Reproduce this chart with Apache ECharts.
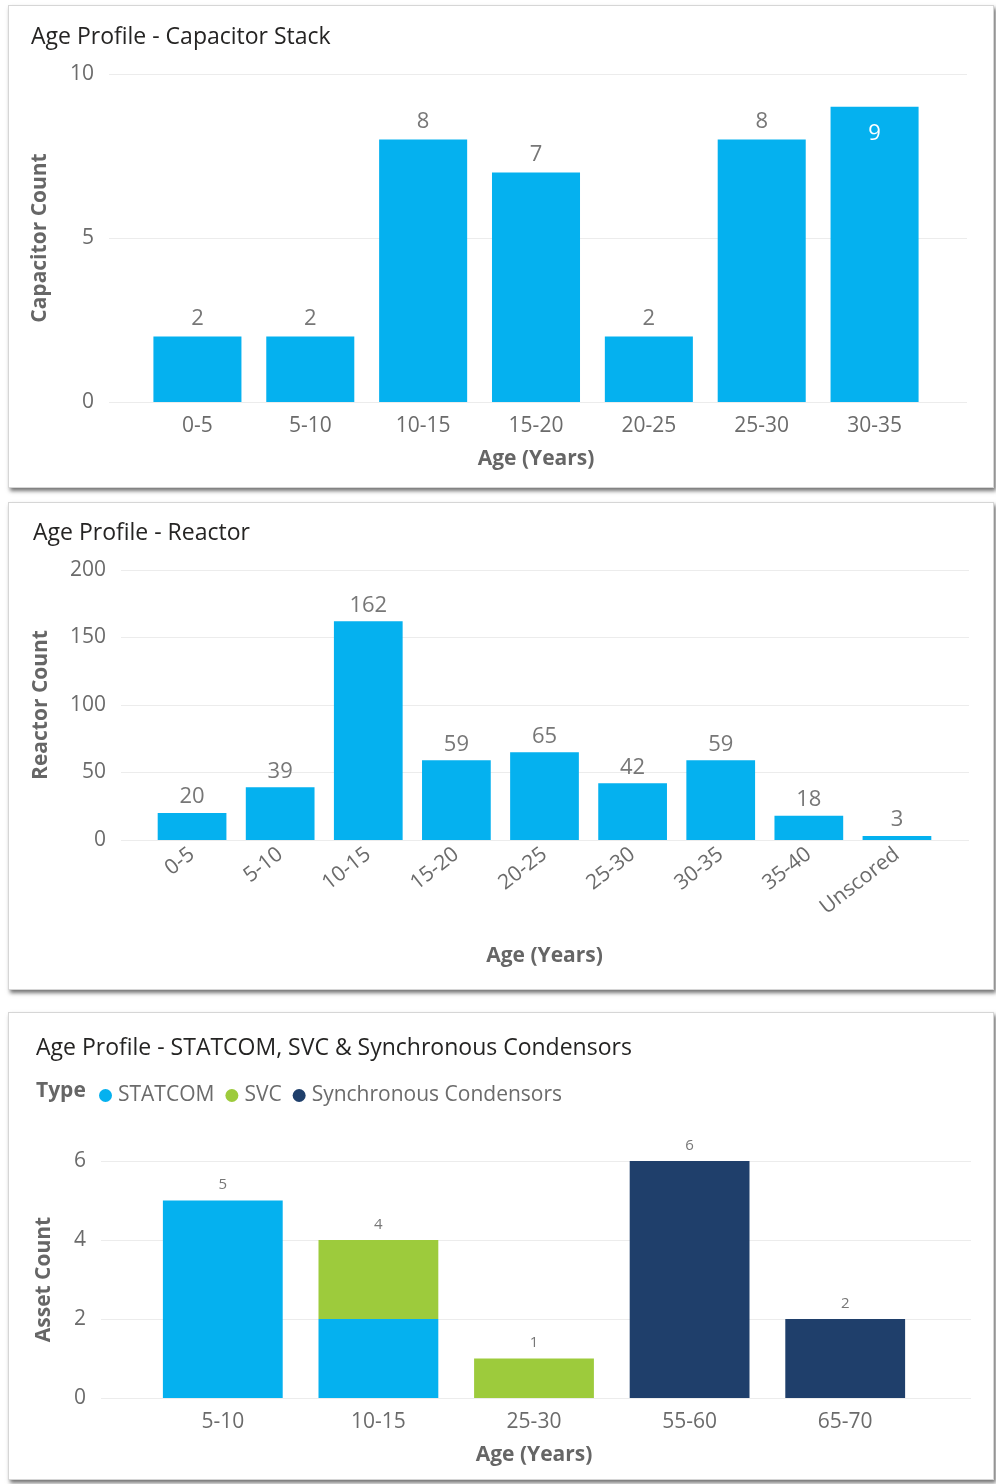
<!DOCTYPE html>
<html>
<head>
<meta charset="utf-8">
<script src="https://cdn.jsdelivr.net/npm/echarts@6/dist/echarts.min.js"></script>
<style>
  body { margin: 0; background: #fff; width: 996px; height: 1484px; position: relative; overflow: hidden; }
  .card { position: absolute; left: 8px; width: 986px; background: #fff;
          border: 1px solid #d6d6d6; box-shadow: 2px 3px 4px rgba(0,0,0,0.55); box-sizing: border-box; }
</style>
</head>
<body>
<div id="capChart" class="card" style="top:5px; height:483px;"></div>
<div id="reactorChart" class="card" style="top:502px; height:488px;"></div>
<div id="assetChart" class="card" style="top:1012px; height:468px;"></div>

<script>
// capacitor stack
var capAges = ['0-5', '5-10', '10-15', '15-20', '20-25', '25-30', '30-35'];
var capCounts = [2, 2, 8, 7, 2, 8, 9];
var capTicks = [0, 5, 10];

// reactor
var reactorAges = ['0-5', '5-10', '10-15', '15-20', '20-25', '25-30', '30-35', '35-40', 'Unscored'];
var reactorCounts = [20, 39, 162, 59, 65, 42, 59, 18, 3];

// statcom / svc / sync condensors
var assetAges = ['5-10', '10-15', '25-30', '55-60', '65-70'];
var statcomCounts = [5, 2, 0, 0, 0];
var svcCounts = [0, 2, 1, 0, 0];
var syncCounts = [0, 0, 0, 6, 2];

var FONT = '"Open Sans", "Noto Sans", sans-serif';
var BLUE = '#05B1EF';
var GREEN = '#9DCB3C';
var NAVY = '#1F3F6B';
var TICK = '#6b6b6b';
var GRID = '#ececec';

function titleOpt(text, left, top) {
  return { text: text, left: left, top: top, padding: 0,
           textStyle: { fontFamily: FONT, fontSize: 23, fontWeight: 'normal', color: '#252423' } };
}

// background grid holds the y labels + full width gridlines, inner grid holds the bars
function yAxisPair(max, interval, name, nameGap) {
  return [{
    gridIndex: 0, type: 'value', min: 0, max: max, interval: interval,
    name: name, nameLocation: 'middle', nameGap: nameGap, nameRotate: 90,
    nameTextStyle: { fontFamily: FONT, fontSize: 21, fontWeight: 'bold', color: '#666' },
    axisLine: { show: false }, axisTick: { show: false },
    axisLabel: { fontFamily: FONT, fontSize: 21, color: TICK, margin: 15 },
    splitLine: { lineStyle: { color: GRID, width: 1 } }
  }, {
    gridIndex: 1, type: 'value', min: 0, max: max, interval: interval, show: false
  }];
}

function xAxisPair(cats, name, nameGap, rotate, margin) {
  return [{ gridIndex: 0, type: 'category', data: cats, show: false }, {
    gridIndex: 1, type: 'category', data: cats,
    name: name, nameLocation: 'middle', nameGap: nameGap,
    nameTextStyle: { fontFamily: FONT, fontSize: 21, fontWeight: 'bold', color: '#666' },
    axisLine: { show: false }, axisTick: { show: false },
    axisLabel: { fontFamily: FONT, fontSize: 21, color: TICK, margin: margin, rotate: rotate || 0, interval: 0 }
  }];
}

// ---- chart 1
var capChart = echarts.init(document.getElementById('capChart'));
capChart.setOption({
  animation: false,
  title: titleOpt('Age Profile - Capacitor Stack', 22, 20),
  grid: [
    { left: 100, right: 26, top: 68, bottom: 85 },
    { left: 132, right: 62, top: 68, bottom: 85 }
  ],
  xAxis: xAxisPair(capAges, 'Age (Years)', 47, 0, 14),
  yAxis: yAxisPair(capTicks[capTicks.length - 1], capTicks[1] - capTicks[0], 'Capacitor Count', 58),
  series: [{
    type: 'bar', xAxisIndex: 1, yAxisIndex: 1, barCategoryGap: '22%',
    itemStyle: { color: BLUE },
    label: { show: true, position: 'top', distance: 7, fontFamily: FONT, fontSize: 22, color: '#777' },
    data: capCounts.map(function (v) {
      return v >= 9 ? { value: v, label: { position: 'insideTop', color: '#fff', distance: 16 } } : v;
    })
  }]
});

// ---- chart 2
var reactorChart = echarts.init(document.getElementById('reactorChart'));
reactorChart.setOption({
  animation: false,
  title: titleOpt('Age Profile - Reactor', 24, 19),
  grid: [
    { left: 112, right: 24, top: 67, bottom: 149 },
    { left: 139, right: 52, top: 67, bottom: 149 }
  ],
  xAxis: xAxisPair(reactorAges, 'Age (Years)', 106, 38, 12),
  yAxis: yAxisPair(200, 50, 'Reactor Count', 69),
  series: [{
    type: 'bar', xAxisIndex: 1, yAxisIndex: 1, barCategoryGap: '22%',
    itemStyle: { color: BLUE },
    label: { show: true, position: 'top', distance: 5, fontFamily: FONT, fontSize: 22, color: '#777' },
    data: reactorCounts
  }]
});

// ---- chart 3
var totals = assetAges.map(function (_, i) { return statcomCounts[i] + svcCounts[i] + syncCounts[i]; });
var assetChart = echarts.init(document.getElementById('assetChart'));
assetChart.setOption({
  animation: false,
  title: [
    titleOpt('Age Profile - STATCOM, SVC & Synchronous Condensors', 27, 24),
    { text: 'Type', left: 27, top: 68, padding: 0,
      textStyle: { fontFamily: FONT, fontSize: 21, fontWeight: 'bold', color: '#666' } }
  ],
  legend: {
    left: 85, top: 67, icon: 'circle', itemWidth: 13, itemHeight: 13, itemGap: 11,
    textStyle: { fontFamily: FONT, fontSize: 21, color: TICK, padding: [0, 0, 0, 1] },
    data: ['STATCOM', 'SVC', 'Synchronous Condensors']
  },
  grid: [
    { left: 92, right: 22, top: 148, bottom: 81 },
    { left: 136, right: 70, top: 148, bottom: 81 }
  ],
  xAxis: xAxisPair(assetAges, 'Age (Years)', 47, 0, 14),
  yAxis: yAxisPair(6, 2, 'Asset Count', 46),
  series: [
    { name: 'STATCOM', type: 'bar', stack: 'a', xAxisIndex: 1, yAxisIndex: 1, barCategoryGap: '23%',
      itemStyle: { color: BLUE }, data: statcomCounts },
    { name: 'SVC', type: 'bar', stack: 'a', xAxisIndex: 1, yAxisIndex: 1,
      itemStyle: { color: GREEN }, data: svcCounts },
    { name: 'Synchronous Condensors', type: 'bar', stack: 'a', xAxisIndex: 1, yAxisIndex: 1,
      itemStyle: { color: NAVY }, data: syncCounts },
    { name: 'total', type: 'bar', stack: 'a', xAxisIndex: 1, yAxisIndex: 1,
      itemStyle: { color: 'transparent' }, tooltip: { show: false },
      label: { show: true, position: 'top', distance: 8, fontFamily: FONT, fontSize: 15, color: '#777',
               formatter: function (p) { return totals[p.dataIndex]; } },
      data: totals.map(function () { return 0; }) }
  ]
});
</script>
</body>
</html>
